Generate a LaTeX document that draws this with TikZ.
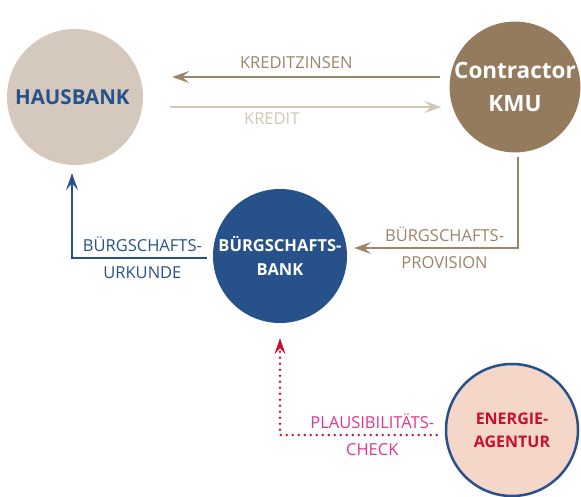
\documentclass[tikz,border=0pt]{standalone}
\usepackage{fontspec}
\setmainfont{Open Sans}
\usepackage{tikz}
\usetikzlibrary{
	arrows.meta,
	calc,
	positioning
}

\definecolor{hausbeige}{HTML}{D5C9BD}
\definecolor{kmubrown}{HTML}{957B5E}
\definecolor{buergblue}{HTML}{27518A}
\definecolor{energiefill}{HTML}{F5D7CA}
\definecolor{energiered}{HTML}{C8102E}
\definecolor{checkpink}{HTML}{E2348C}
\definecolor{zinsbrown}{HTML}{9C8468}
\definecolor{kreditbeige}{HTML}{D3C5B7}

\begin{document}
\begin{tikzpicture} [
		x = 1pt,
		y = -1pt,
		node/.style = {
			circle,
			inner sep = 0pt,
			text centered,
			align = center,
			font = \bfseries\fontsize{16.5}{24}\selectfont,
		},
		line/.style = {
			draw,
			line width = 1.2pt,
			-{Stealth[length=17pt, width=12pt, inset=7pt]},
		},
		line-caption/.style = {
			align = center,
			inner sep = 0pt,
			font = \fontsize{16.5}{27}\selectfont,
		},
		hausbank/.style = {
			fill = hausbeige,
			text = buergblue,
			minimum size = 136pt,
			font = \bfseries\fontsize{20.5}{24}\selectfont,
		},
		kmu/.style = {
			fill = kmubrown,
			text = white,
			minimum size = 128pt,
			font = \bfseries\fontsize{22.5}{33}\selectfont,
		},
		buergschaft/.style = {
			fill = buergblue,
			text = white,
			minimum size = 134pt,
		},
		energie/.style = {
			fill = energiefill,
			draw = buergblue,
			line width = 2.5pt,
			text = energiered,
			minimum size = 132pt,
			font = \bfseries\fontsize{16}{23}\selectfont,
		}
	]

	\useasboundingbox (0,0) rectangle (581,497);

	\node[node, hausbank] (haus) at (75,97) {
		HAUSBANK
	};
	\node[node, kmu] (kmu) at (515,87) {
		Contractor\\KMU
	};
	\node[node, buergschaft] (bank) at (280,256) {
		BÜRGSCHAFTS-\\BANK
	};
	\node[node, energie] (agentur) at (512,430) {
		ENERGIE-\\AGENTUR
	};

	% interest and credit between bank and contractor
	\path[line, draw = zinsbrown, text = zinsbrown, shorten < = 9pt, shorten > = 29pt]
		([yshift = 10pt]kmu.west) -- ([yshift = 10pt]kmu.west -| haus.east)
		node[line-caption, midway, above = 8pt] {KREDITZINSEN};
	\path[line, draw = kreditbeige, text = kreditbeige, shorten < = 27pt, shorten > = 8pt]
		([yshift = -10pt]haus.east) -- ([yshift = -10pt]haus.east -| kmu.west)
		node[line-caption, pos = 0.42, below = 5pt] {KREDIT};

	% guarantee paths
	\path[line, draw = buergblue, text = buergblue, shorten < = 6pt, shorten > = 8pt]
		([yshift = -2pt]bank.west) -| ([xshift = -3pt]haus.south)
		node[line-caption, pos = 0.25] {BÜRGSCHAFTS-\\URKUNDE};
	\path[line, draw = zinsbrown, text = zinsbrown, shorten < = 4pt, shorten > = 7pt]
		([xshift = 3pt]kmu.south) |- ([yshift = 8pt]bank.east)
		node[line-caption, pos = 0.715] {BÜRGSCHAFTS-\\PROVISION};

	% plausibility check
	\path[line, draw = energiered, text = checkpink, line width = 2.6pt,
			dash pattern = on 0pt off 6pt, line cap = round,
			-{Stealth[length=16pt, width=11pt, inset=6pt, line width=0pt]},
			shorten < = 8pt, shorten > = 15pt]
		([yshift = -5pt]agentur.west) -| (bank.south)
		node[line-caption, pos = 0.22] {PLAUSIBILITÄTS-\\CHECK};
\end{tikzpicture}
\end{document}
